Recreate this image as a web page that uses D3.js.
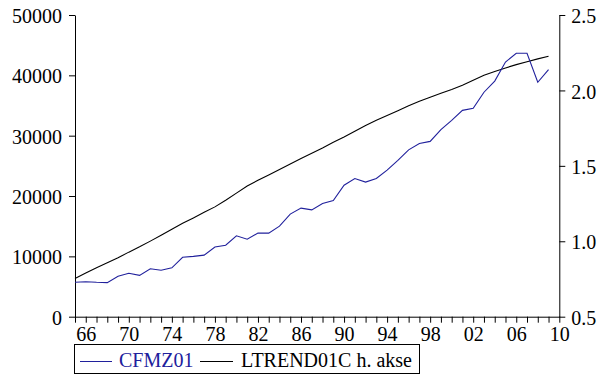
<!DOCTYPE html>
<html>
<head>
<meta charset="utf-8">
<script src="https://cdn.jsdelivr.net/npm/d3@7"></script>
<style>
  html, body { margin: 0; padding: 0; background: #fff; }
  svg { display: block; font-family: "Liberation Serif", "Times New Roman", serif; }
</style>
</head>
<body>
<svg id="chart" width="601" height="374"></svg>
<script>
// Annual observations, 1965-2009
const years = d3.range(1965, 2010);

// CFMZ01 (left axis)
const cfmz01 = [
  5700, 5800, 5700, 5650, 6700, 7200, 6850, 7950, 7700, 8100,
  9850, 10000, 10200, 11550, 11850, 13400, 12850, 13850, 13850, 15000,
  17000, 18000, 17700, 18750, 19250, 21800, 22900, 22300, 22900, 24300,
  25900, 27650, 28700, 29050, 31000, 32550, 34200, 34550, 37200, 39050,
  42200, 43650, 43650, 38850, 40950
];

// LTREND01C (right axis, "h. akse")
const ltrend01c = [
  0.754, 0.790, 0.825, 0.858, 0.891, 0.928, 0.963, 1.001, 1.040, 1.080,
  1.119, 1.155, 1.192, 1.228, 1.272, 1.319, 1.366, 1.404, 1.440, 1.476,
  1.513, 1.549, 1.583, 1.618, 1.656, 1.692, 1.730, 1.768, 1.803, 1.834,
  1.866, 1.898, 1.928, 1.955, 1.981, 2.006, 2.034, 2.067, 2.101, 2.126,
  2.149, 2.171, 2.190, 2.209, 2.227
];

const leftTicks = [0, 10000, 20000, 30000, 40000, 50000];
const rightTicks = [0.5, 1.0, 1.5, 2.0, 2.5];
const xTicks = d3.range(1965, 2011);
const xLabelYears = d3.range(1966, 2011, 4);

const seriesNames = ["CFMZ01", "LTREND01C h. akse"];

const BLUE = "#20209c";
const FONT = 20;

const svg = d3.select("#chart");

const plotLeft = 75, plotRight = 559.3, plotTop = 15, plotBottom = 316.7;

const x = d3.scaleLinear().domain([1965, 2010]).range([plotLeft, plotRight]);
const yL = d3.scaleLinear().domain([0, 50000]).range([plotBottom, plotTop]);
const yR = d3.scaleLinear().domain([0.5, 2.5]).range([plotBottom, plotTop]);

function styleAxis(g) {
  g.selectAll("path, line").attr("stroke", "#000").attr("stroke-width", 1);
  g.selectAll("text").attr("fill", "#000").attr("font-size", FONT)
    .attr("font-family", '"Liberation Serif", "Times New Roman", serif');
}

// Left axis
svg.append("g")
  .attr("transform", `translate(${plotLeft},0)`)
  .call(d3.axisLeft(yL).tickValues(leftTicks).tickFormat(d3.format("d"))
    .tickSize(6).tickSizeOuter(0).tickPadding(7))
  .call(styleAxis)
  .call(g => g.selectAll("text").attr("dy", "0.38em"));

// Right axis
svg.append("g")
  .attr("transform", `translate(${plotRight},0)`)
  .call(d3.axisRight(yR).tickValues(rightTicks).tickFormat(d3.format(".1f"))
    .tickSize(6).tickSizeOuter(0).tickPadding(6))
  .call(styleAxis)
  .call(g => g.selectAll("text").attr("dy", "0.38em"));

// Bottom axis: a tick every year, labels every fourth year
const labelSet = new Set(xLabelYears);
svg.append("g")
  .attr("transform", `translate(0,${plotBottom})`)
  .call(d3.axisBottom(x).tickValues(xTicks)
    .tickFormat(d => labelSet.has(d) ? d3.format("02d")(d % 100) : "")
    .tickSize(6).tickSizeOuter(0).tickPadding(4))
  .call(styleAxis);

// Series lines
const lineL = d3.line().x((d, i) => x(years[i])).y(d => yL(d));
const lineR = d3.line().x((d, i) => x(years[i])).y(d => yR(d));

svg.append("path")
  .datum(ltrend01c)
  .attr("d", lineR)
  .attr("fill", "none")
  .attr("stroke", "#000")
  .attr("stroke-width", 1.1);

svg.append("path")
  .datum(cfmz01)
  .attr("d", lineL)
  .attr("fill", "none")
  .attr("stroke", BLUE)
  .attr("stroke-width", 1.1);

// Legend
const legend = svg.append("g");
legend.append("rect")
  .attr("x", 74.5).attr("y", 344.5)
  .attr("width", 345).attr("height", 29)
  .attr("fill", "#fff").attr("stroke", "#000").attr("stroke-width", 1);

const legendItems = [
  { name: seriesNames[0], color: BLUE, x1: 80, x2: 112, tx: 119 },
  { name: seriesNames[1], color: "#000", x1: 200, x2: 233, tx: 241 }
];
legendItems.forEach(it => {
  legend.append("line")
    .attr("x1", it.x1).attr("x2", it.x2)
    .attr("y1", 361.5).attr("y2", 361.5)
    .attr("stroke", it.color).attr("stroke-width", 1);
  legend.append("text")
    .attr("x", it.tx).attr("y", 367)
    .attr("font-size", FONT)
    .attr("fill", it.color)
    .text(it.name);
});
</script>
</body>
</html>
